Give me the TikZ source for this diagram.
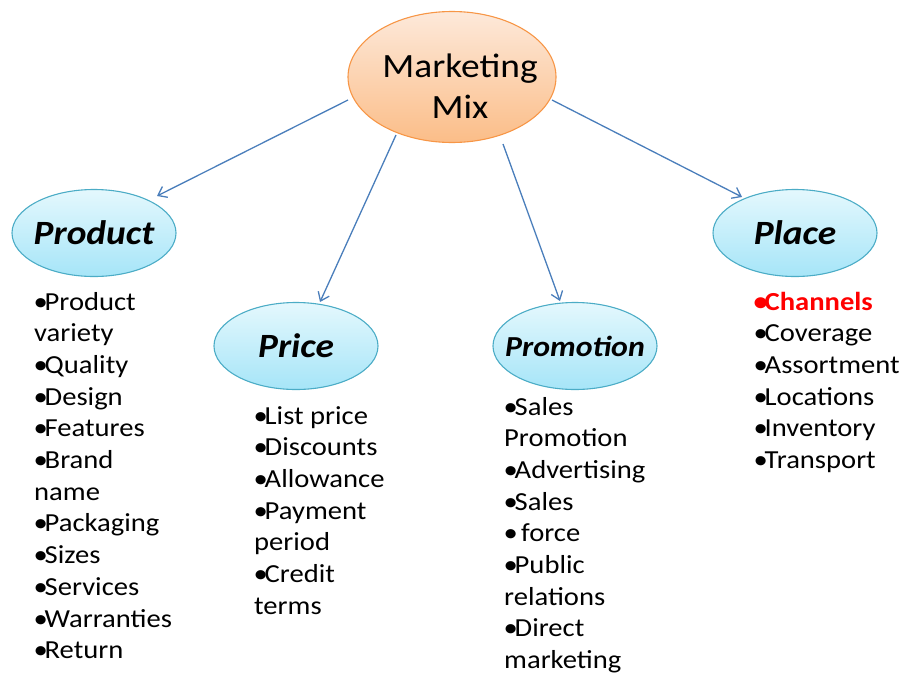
\documentclass[tikz,border=0pt]{standalone}
\usepackage{fontspec}
\setmainfont{Carlito}[FakeStretch=1.1]
\usetikzlibrary{arrows.meta,shapes.geometric}
\definecolor{subedge}{HTML}{4BACC6}
\definecolor{subtop}{HTML}{E4F8FD}
\definecolor{subbot}{HTML}{A6E5F8}
\definecolor{mmedge}{HTML}{F79646}
\definecolor{mmtop}{HTML}{FDE9DA}
\definecolor{mmbot}{HTML}{FBBD88}
\definecolor{arr}{HTML}{4A7EBB}
\newcommand\mybul{\makebox[10.5pt][l]{\hspace{-0.5pt}\raisebox{0pt}{\scalebox{1.0}{•}}}}
\begin{document}
\begin{tikzpicture}[x=1pt,y=-1pt,
  sub/.style={ellipse, draw=subedge, line width=1.1pt, top color=subtop, bottom color=subbot,
    minimum width=164pt, minimum height=87pt, inner sep=0pt,
    font=\fontsize{34}{40}\bfseries\itshape\selectfont},
  mmstyle/.style={ellipse, draw=mmedge, line width=1.1pt, top color=mmtop, bottom color=mmbot,
    minimum width=208pt, minimum height=131pt, inner sep=0pt},
  mmtext/.style={align=center, inner sep=0pt, font=\fontsize{34}{41}\selectfont},
  listitem/.style={anchor=base west, inner sep=0pt, font=\fontsize{26}{31.7}\selectfont},
  link/.style={draw=arr, line width=1.3pt, -{Straight Barb[length=8pt,width=12pt]}}
]
\useasboundingbox (0,0) rectangle (903,675);

% central node
\node[mmstyle] (mm) at (452,77) {};
\node[mmtext] (mmt) at (460,86) {Marketing\\Mix};

% category ellipses
\node[sub] (product) at (94,233) {\makebox[0pt]{Product}};
\node[sub] (price) at (296,346) {\makebox[0pt]{Price}};
\node[sub] (promotion) at (575,346) {\makebox[0pt]{\fontsize{29}{34}\selectfont Promotion}};
\node[sub] (place) at (795,233) {\makebox[0pt]{Place}};

% connector end points
\coordinate (s1) at (348,100); \coordinate (e1) at (157,196);
\coordinate (s2) at (396,135); \coordinate (e2) at (320,302);
\coordinate (s3) at (503,144); \coordinate (e3) at (560,301);
\coordinate (s4) at (552,100); \coordinate (e4) at (742,197);
\draw[link] (s1) -- (e1);
\draw[link] (s2) -- (e2);
\draw[link] (s3) -- (e3);
\draw[link] (s4) -- (e4);

% lists
\foreach [count=\i] \t in {\mybul Product, variety, \mybul Quality, \mybul Design, \mybul Features, \mybul Brand, name, \mybul Packaging, \mybul Sizes, \mybul Services, \mybul Warranties, \mybul Return}
  \node[listitem] (prod\i) at (34, {310+(\i-1)*31.7}) {\t};
\foreach [count=\i] \t in {\mybul List price, \mybul Discounts, \mybul Allowance, \mybul Payment, period, \mybul Credit, terms}
  \node[listitem] (pri\i) at (254, {424+(\i-1)*31.7}) {\t};
\foreach [count=\i] \t in {\mybul Sales, Promotion, \mybul Advertising, \mybul Sales, \mybul~force, \mybul Public, relations, \mybul Direct, marketing}
  \node[listitem] (pro\i) at (504, {415+(\i-1)*31.7}) {\t};
\node[listitem, text=red, font=\fontsize{26}{31.7}\bfseries\selectfont] (pla1) at (754,310) {\mybul Channels};
\foreach [count=\i from 2] \t in {\mybul Coverage, \mybul Assortment, \mybul Locations, \mybul Inventory, \mybul Transport}
  \node[listitem] (pla\i) at (754, {310+(\i-1)*31.7}) {\t};
\end{tikzpicture}
\end{document}
